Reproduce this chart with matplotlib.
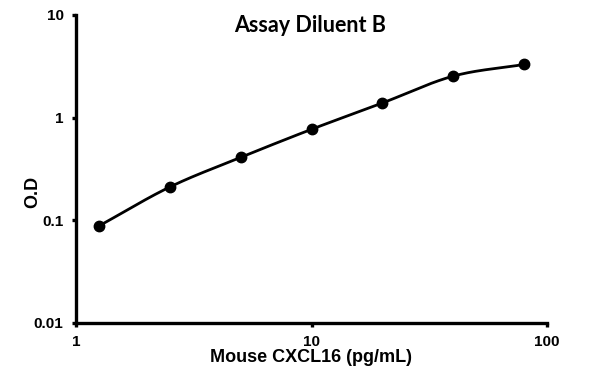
import matplotlib
matplotlib.use("Agg")
import matplotlib.pyplot as plt
from matplotlib.ticker import NullLocator
import numpy as np

# standard curve, Mouse CXCL16 in Assay Diluent B
conc = [1.25, 2.5, 5, 10, 20, 40, 80]
od = [0.088, 0.211, 0.41, 0.77, 1.39, 2.54, 3.30]

x_ticks = [1, 10, 100]
x_tick_labels = ["1", "10", "100"]
y_ticks = [0.01, 0.1, 1, 10]
y_tick_labels = ["0.01", "0.1", "1", "10"]

title = "Assay Diluent B"
xlabel = "Mouse CXCL16 (pg/mL)"
ylabel = "O.D"

plt.rcParams['font.family'] = ['Liberation Sans', 'DejaVu Sans']
plt.rcParams['font.weight'] = 'bold'


def smooth_log(xs, ys, n=30):
    # catmull-rom through the points in log-log space (Excel style smoothed line)
    lx = np.log10(xs)
    ly = np.log10(ys)
    px = np.concatenate([[2*lx[0]-lx[1]], lx, [2*lx[-1]-lx[-2]]])
    py = np.concatenate([[2*ly[0]-ly[1]], ly, [2*ly[-1]-ly[-2]]])
    outx, outy = [], []
    t = np.linspace(0, 1, n)
    for i in range(1, len(px)-2):
        for p, out in ((px, outx), (py, outy)):
            p0, p1, p2, p3 = p[i-1], p[i], p[i+1], p[i+2]
            seg = 0.5*((2*p1) + (-p0+p2)*t + (2*p0-5*p1+4*p2-p3)*t**2
                       + (-p0+3*p1-3*p2+p3)*t**3)
            out.extend(seg)
    return 10**np.array(outx), 10**np.array(outy)


fig = plt.figure(figsize=(5.95, 3.84), dpi=100)
ax = fig.add_axes([76/595, 1 - 323/384, (547-76)/595, (323-15)/384])

ax.set_xscale('log')
ax.set_yscale('log')
ax.set_xlim(1, 100)
ax.set_ylim(0.01, 10)

sx, sy = smooth_log(conc, od)
ax.plot(sx, sy, color='k', linewidth=2.0, solid_joinstyle='round')
ax.plot(conc, od, linestyle='none', marker='o', markersize=7.5,
        color='k', clip_on=False)

ax.set_xticks(x_ticks, x_tick_labels, fontweight='bold', fontsize=11)
ax.set_yticks(y_ticks, y_tick_labels, fontweight='bold', fontsize=11)
ax.xaxis.set_minor_locator(NullLocator())
ax.yaxis.set_minor_locator(NullLocator())

for s in ['top', 'right']:
    ax.spines[s].set_visible(False)
for s in ['left', 'bottom']:
    ax.spines[s].set_linewidth(2.4)
    ax.spines[s].set_capstyle('projecting')

ax.tick_params(axis='both', which='major', direction='out', length=3,
               width=2.4)
ax.tick_params(axis='x', pad=6)
ax.tick_params(axis='y', pad=6)

fig.text(311/595, 1 - 358/384, xlabel, ha='center', va='center',
         fontsize=13, fontweight='bold')
fig.text(33/595, 1 - 192/384, ylabel, ha='center', va='center',
         fontsize=13, fontweight='bold', rotation=90)
fig.text(310/595, 1 - 26/384, title, ha='center', va='center',
         fontsize=15.5, fontweight='bold', family=['Lato', 'DejaVu Sans'])

fig.savefig("out.png", dpi=100)
